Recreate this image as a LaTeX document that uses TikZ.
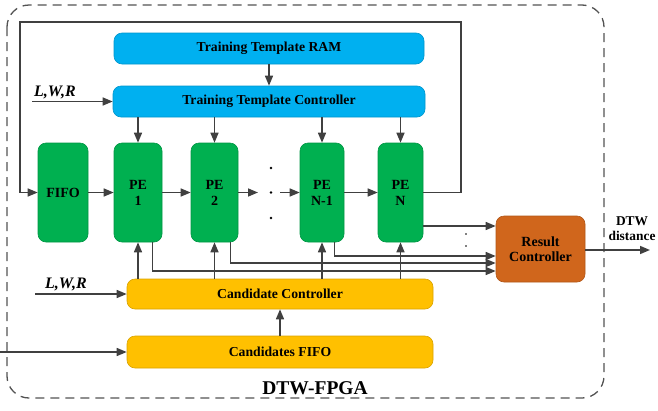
\documentclass[tikz,border=0pt]{standalone}
\usepackage{fontspec}
\setmainfont{Liberation Serif}
\usetikzlibrary{arrows.meta,calc}
\definecolor{tcyan}{HTML}{00B0F0}
\definecolor{tgreen}{HTML}{00B050}
\definecolor{tyellow}{HTML}{FFC000}
\definecolor{torange}{HTML}{D0661C}
\definecolor{wire}{HTML}{404040}
\tikzset{
  blk/.style={rounded corners=8pt, inner sep=0pt, align=center, font=\bfseries, line width=0.6pt},
  bluebox/.style={blk, fill=tcyan, draw=tcyan!85!black, font=\bfseries\fontsize{13.7}{15}\selectfont},
  greenbox/.style={blk, fill=tgreen, draw=tgreen!85!black, font=\bfseries\fontsize{14}{16}\selectfont},
  yellowbox/.style={blk, fill=tyellow, draw=tyellow!85!black, font=\bfseries\fontsize{13.7}{15}\selectfont},
  orangebox/.style={blk, fill=torange, draw=torange!85!black, font=\bfseries\fontsize{14}{15}\selectfont},
  wireline/.style={draw=wire, line width=1.5pt},
  arr/.style={wireline, -{Triangle[length=10pt,width=8pt]}},
  lbl/.style={font=\bfseries\itshape\fontsize{16}{18}\selectfont, inner sep=0pt},
}
\begin{document}
\begin{tikzpicture}[x=1pt,y=-1pt]
\useasboundingbox (0,0) rectangle (658,410);

% outer FPGA boundary
\draw[draw=wire!90, line width=1.3pt, dash pattern=on 9pt off 6pt, rounded corners=22pt]
  (7,5) rectangle (604,398);
\node[font=\bfseries\fontsize{19.5}{22}\selectfont, inner sep=0pt, anchor=base] (fpga) at (315,394) {DTW-FPGA};

% template path
\node[bluebox, minimum width=310pt, minimum height=31pt] (ram) at (269,48.5) {Training Template RAM};
\node[bluebox, minimum width=312pt, minimum height=31pt] (ttc) at (269,101.5) {Training Template Controller};

% processing chain
\node[greenbox, minimum width=50pt, minimum height=99pt] (fifo) at (63,192.5) {FIFO};
\node[greenbox, minimum width=48pt, minimum height=99pt] (pe1) at (138,192.5) {PE\\1};
\node[greenbox, minimum width=47pt, minimum height=99pt] (pe2) at (214.5,192.5) {PE\\2};
\node[greenbox, minimum width=44pt, minimum height=99pt] (pen1) at (322,192.5) {PE\\N-1};
\node[greenbox, minimum width=45pt, minimum height=99pt] (pen) at (400.5,192.5) {PE\\N};

% candidate path
\node[yellowbox, minimum width=306pt, minimum height=30pt] (cc) at (280,294) {Candidate Controller};
\node[yellowbox, minimum width=306pt, minimum height=32pt] (cf) at (280,352) {Candidates FIFO};

% result
\node[orangebox, minimum width=89pt, minimum height=66pt] (rc) at (540.5,249) {Result\\Controller};

% labels
\node[lbl, anchor=base west] (lwr1) at (34,96) {L,W,R};
\node[lbl, anchor=base west] (lwr2) at (45,288) {L,W,R};
\node[font=\bfseries\fontsize{13.4}{15}\selectfont, align=center, inner sep=0pt] (dtwd) at (632,229) {DTW\\distance};

% inputs
\coordinate (in1) at (32,101.5);
\coordinate (in2) at (35,294);
\coordinate (in3) at (0,352);
\draw[arr] (in1) -- (ttc.west);
\draw[arr] (in2) -- (cc.west);
\draw[arr] (in3) -- (cf.west);

\draw[arr] (ram.south) -- (ram.south |- ttc.north);
\draw[arr] (cf.north) -- (cf.north |- cc.south);

% template and candidate controllers to PEs
\foreach \p in {pe1,pe2,pen1,pen}{
  \draw[arr] (ttc.south -| \p) -- (\p.north);
  \draw[arr] (cc.north -| \p) -- (\p.south);
}

% systolic chain
\coordinate (gapL) at (258,192.5);
\coordinate (gapR) at (280,192.5);
\draw[arr] (fifo.east) -- (pe1.west);
\draw[arr] (pe1.east) -- (pe2.west);
\draw[arr] (pe2.east) -- (gapL);
\draw[arr] (gapR) -- (pen1.west);
\draw[arr] (pen1.east) -- (pen.west);
\foreach \yy in {168,192.5,218} \fill[black] (271,\yy) circle (1.3pt);

% feedback loop
\coordinate (fbA) at (461,22);
\coordinate (fbB) at (20,22);
\draw[arr] (pen.east) -| (fbA) -- (fbB) |- (fifo.west);

% PE outputs to result controller
\draw[arr] (pen.east |- 0,226) -- (rc.west |- 0,226);
\draw[arr] (pen1.south east) ++(-10,0) |- (rc.west |- 0,256);
\draw[arr] (pe2.south east) ++(-8,0) |- (rc.west |- 0,263);
\draw[arr] (pe1.south east) ++(-10,0) |- (rc.west |- 0,271);
\foreach \yy in {234,246} \fill[black] (466,\yy) circle (0.9pt);

% result output
\coordinate (out) at (650,250);
\draw[arr] (rc.east |- out) -- (out);
\end{tikzpicture}
\end{document}
